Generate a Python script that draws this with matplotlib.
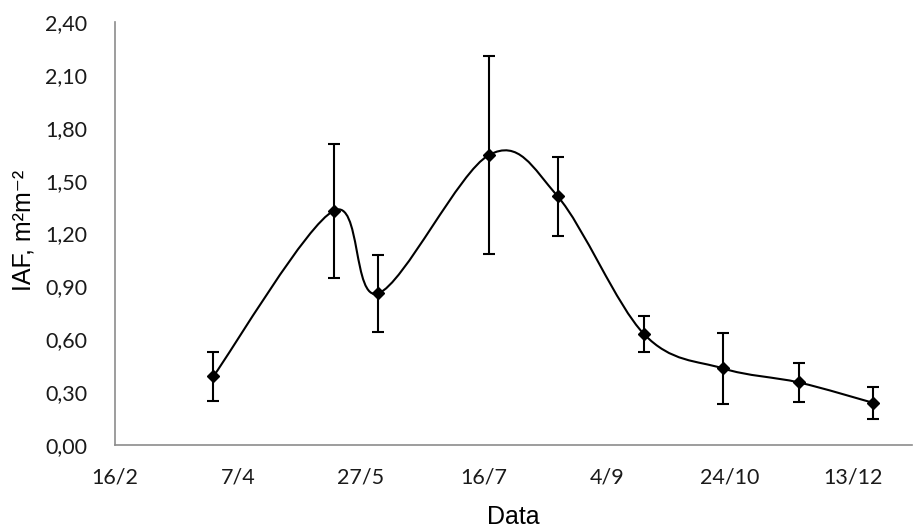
import datetime as dt
import numpy as np
import matplotlib
matplotlib.use("Agg")
import matplotlib.pyplot as plt
import matplotlib.dates as mdates
from matplotlib.path import Path
from matplotlib.patches import PathPatch

# sampling dates (day/month) and leaf area index with its error
dates = ["28/3", "16/5", "3/6", "18/7", "15/8", "19/9", "21/10", "21/11", "21/12"]
iaf = [0.39, 1.33, 0.86, 1.645, 1.41, 0.63, 0.435, 0.355, 0.24]
err = [0.14, 0.38, 0.22, 0.56, 0.225, 0.10, 0.20, 0.11, 0.09]

tick_dates = ["16/2", "7/4", "27/5", "16/7", "4/9", "24/10", "13/12"]
yticks = [0.0, 0.3, 0.6, 0.9, 1.2, 1.5, 1.8, 2.1, 2.4]

YEAR = 2015


def to_date(s):
    d, m = s.split("/")
    return dt.date(YEAR, int(m), int(d))


x = mdates.date2num([to_date(s) for s in dates])
y = np.array(iaf)
xt = mdates.date2num([to_date(s) for s in tick_dates])

fig = plt.figure(figsize=(9.13, 5.31), dpi=100)
ax = fig.add_axes([115 / 913, 1 - 445 / 531, 797 / 913, 423 / 531])

# excel-like smoothed line (bezier through the points)
verts = [(x[0], y[0])]
codes = [Path.MOVETO]
n = len(x)
for i in range(n - 1):
    x0, y0 = (x[i - 1], y[i - 1]) if i > 0 else (x[i], y[i])
    x3, y3 = (x[i + 2], y[i + 2]) if i + 2 < n else (x[i + 1], y[i + 1])
    c1 = (x[i] + (x[i + 1] - x0) / 6, y[i] + (y[i + 1] - y0) / 6)
    c2 = (x[i + 1] - (x3 - x[i]) / 6, y[i + 1] - (y3 - y[i]) / 6)
    verts += [c1, c2, (x[i + 1], y[i + 1])]
    codes += [Path.CURVE4] * 3
ax.add_patch(PathPatch(Path(verts, codes), fill=False, edgecolor="black", lw=1.5, zorder=2))

ax.errorbar(x, y, yerr=err, fmt="none", ecolor="black", elinewidth=1.5,
            capsize=4.5, capthick=1.5, zorder=3)
ax.plot(x, y, ls="none", marker="D", ms=6, color="black", zorder=4)

ax.set_xlim(xt[0], xt[0] + 324)
ax.set_ylim(0, 2.4)
ax.set_xticks(xt)
ax.set_xticklabels(tick_dates)
ax.set_yticks(yticks)
ax.set_yticklabels([f"{v:.2f}".replace(".", ",") for v in yticks])

for side in ["top", "right"]:
    ax.spines[side].set_visible(False)
for side in ["left", "bottom"]:
    ax.spines[side].set_color("#8c8c8c")
    ax.spines[side].set_linewidth(1.2)
ax.tick_params(length=0, labelsize=15.5, colors="#1a1a1a")
ax.tick_params(axis="x", pad=16)
ax.tick_params(axis="y", pad=20)
for lab in ax.get_xticklabels() + ax.get_yticklabels():
    lab.set_family(["Lato", "DejaVu Sans"])

fig.text(0.5 * (115 + 912) / 913, 1 - 517 / 531, "Data", fontsize=18,
         family=["Liberation Sans", "DejaVu Sans"], ha="center", va="center")
fig.text(23 / 913, 1 - 230 / 531, "IAF, m²m⁻²", fontsize=18, rotation=90,
         family=["Liberation Sans", "DejaVu Sans"], ha="center", va="center")

fig.savefig("out.png", dpi=100)
